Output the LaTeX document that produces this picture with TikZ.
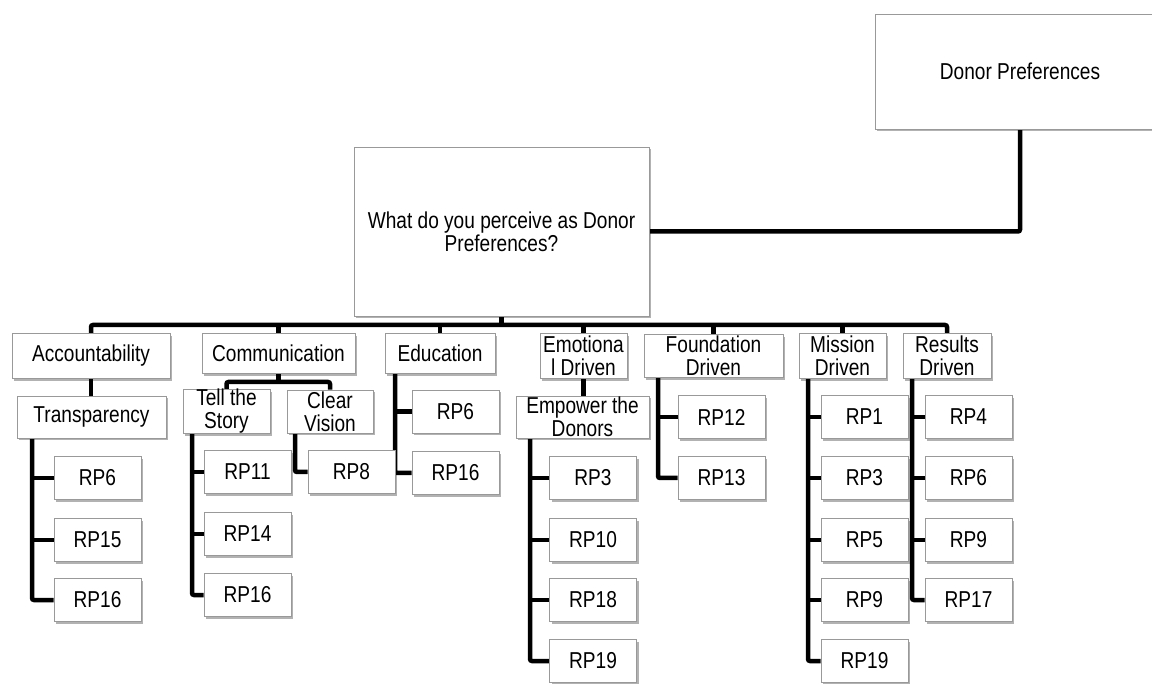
\documentclass[tikz,border=0pt]{standalone}
\usepackage{fontspec}
\setmainfont{Liberation Sans}[FakeStretch=0.83]
\usetikzlibrary{shadows,backgrounds}
\tikzset{
  box/.style={draw=black!40, fill=white, line width=0.8pt, inner sep=0pt, align=center,
    font=\fontsize{23}{23}\selectfont,
    drop shadow={shadow xshift=2pt, shadow yshift=-2.5pt, opacity=0.3, fill=black}},
  leaf/.style={box, minimum width=87pt, minimum height=43pt},
  conn/.style={line width=4.5pt, black, rounded corners=2pt}
}
\begin{document}
\begin{tikzpicture}[x=1pt,y=-1pt]
\useasboundingbox (0,0) rectangle (1152,684);
% top
\node[box, minimum width=290pt, minimum height=115pt] (donor) at (1020,71.5) {Donor Preferences};
\node[box, minimum width=295pt, minimum height=169pt] (q) at (501.5,231.5) {What do you perceive as Donor\\Preferences?};
% level 1
\node[box, minimum width=158pt, minimum height=45pt] (acc) at (91,356) {Accountability};
\node[box, minimum width=153pt, minimum height=40pt] (com) at (278.5,353.5) {Communication};
\node[box, minimum width=110pt, minimum height=40pt] (edu) at (440,353.5) {Education};
\node[box, minimum width=87pt, minimum height=45pt] (emo) at (583.5,356) {Emotiona\\l Driven};
\node[box, minimum width=139pt, minimum height=43pt] (fou) at (713.5,356) {Foundation\\Driven};
\node[box, minimum width=87pt, minimum height=45pt] (mis) at (842.5,356) {Mission\\Driven};
\node[box, minimum width=88pt, minimum height=45pt] (res) at (947,356) {Results\\Driven};
% level 2
\node[box, minimum width=149pt, minimum height=42pt] (tra) at (91.5,417) {Transparency};
\node[box, minimum width=87pt, minimum height=43pt] (tel) at (226.5,411.5) {Tell the\\Story};
\node[box, minimum width=86pt, minimum height=43pt] (cle) at (330,411.5) {Clear\\Vision};
\node[box, minimum width=133pt, minimum height=42pt] (emp) at (582.5,417) {Empower the\\Donors};
% leaves
\node[leaf] (a1) at (97.5,478) {RP6};
\node[leaf] (a2) at (97.5,540) {RP15};
\node[leaf] (a3) at (97.5,600) {RP16};
\node[leaf] (t1) at (247.5,472) {RP11};
\node[leaf] (t2) at (247.5,534) {RP14};
\node[leaf] (t3) at (247.5,595) {RP16};
\node[leaf] (c1) at (351.5,472) {RP8};
\node[leaf] (e1) at (455.5,411.5) {RP6};
\node[leaf] (e2) at (455.5,473) {RP16};
\node[leaf] (m1) at (593,478) {RP3};
\node[leaf] (m2) at (593,540) {RP10};
\node[leaf] (m3) at (593,600) {RP18};
\node[leaf] (m4) at (593,661) {RP19};
\node[leaf] (f1) at (721.5,417) {RP12};
\node[leaf] (f2) at (721.5,478) {RP13};
\node[leaf] (n1) at (864.5,417) {RP1};
\node[leaf] (n2) at (864.5,478) {RP3};
\node[leaf] (n3) at (864.5,540) {RP5};
\node[leaf] (n4) at (864.5,600) {RP9};
\node[leaf] (n5) at (864.5,661) {RP19};
\node[leaf] (r1) at (968.5,417) {RP4};
\node[leaf] (r2) at (968.5,478) {RP6};
\node[leaf] (r3) at (968.5,540) {RP9};
\node[leaf] (r4) at (968.5,600) {RP17};
% connector coordinates
\coordinate (bus) at (0,325);
\coordinate (cbus) at (0,382);
\coordinate (sA) at (32,438);
\coordinate (sT) at (192,433);
\coordinate (sC) at (295,433);
\coordinate (sE) at (395,373);
\coordinate (sM) at (530,438);
\coordinate (sF) at (658,377);
\coordinate (sN) at (808,378);
\coordinate (sR) at (912,378);
\begin{scope}[on background layer]
\draw[conn] (donor.south) |- (q.east);
\draw[conn] (q.south) -- (q.south |- bus);
\draw[conn] (acc.north) -- (acc.north |- bus) -- (res.north |- bus) -- (res.north);
\foreach \n in {com,edu,emo,fou,mis} \draw[conn] (\n.north) -- (\n.north |- bus);
\draw[conn] (acc.south) -- (acc.south |- tra.north);
\draw[conn] (com.south) -- (com.south |- cbus);
\draw[conn] (tel.north) -- (tel.north |- cbus) -- (cle.north |- cbus) -- (cle.north);
\draw[conn] (emo.south) -- (emo.south |- emp.north);
% spines
\draw[conn] (sA) |- (a3.west);
\foreach \n in {a1,a2} \draw[conn] (\n.west) -- (\n.west -| sA);
\draw[conn] (sT) |- (t3.west);
\foreach \n in {t1,t2} \draw[conn] (\n.west) -- (\n.west -| sT);
\draw[conn] (sC) |- (c1.west);
\draw[conn] (sE) |- (e2.west);
\draw[conn] (e1.west) -- (e1.west -| sE);
\draw[conn] (sM) |- (m4.west);
\foreach \n in {m1,m2,m3} \draw[conn] (\n.west) -- (\n.west -| sM);
\draw[conn] (sF) |- (f2.west);
\draw[conn] (f1.west) -- (f1.west -| sF);
\draw[conn] (sN) |- (n5.west);
\foreach \n in {n1,n2,n3,n4} \draw[conn] (\n.west) -- (\n.west -| sN);
\draw[conn] (sR) |- (r4.west);
\foreach \n in {r1,r2,r3} \draw[conn] (\n.west) -- (\n.west -| sR);
\end{scope}
\end{tikzpicture}
\end{document}
